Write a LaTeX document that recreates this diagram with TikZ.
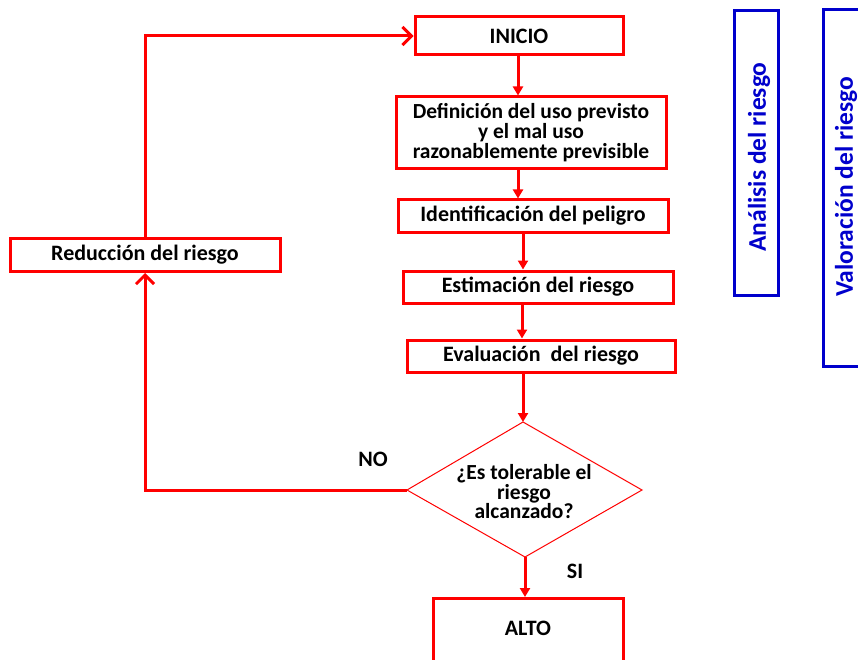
\documentclass[tikz,border=0pt]{standalone}
\usepackage{fontspec}
\setmainfont{Carlito}
\usetikzlibrary{arrows.meta}
\definecolor{rred}{RGB}{255,0,0}
\definecolor{bblue}{RGB}{0,0,204}
\begin{document}
\begin{tikzpicture}[x=1pt,y=-1pt,
  font=\fontsize{22}{19}\selectfont\bfseries,
  rbox/.style={draw=rred, line width=3pt, fill=white, inner sep=0pt, align=center, text=black},
  bbox/.style={draw=bblue, line width=3pt, inner sep=0pt},
  conn/.style={draw=rred, line width=3pt},
  down/.style={conn, -{Triangle[length=9pt,width=10pt]}},
  barb/.style={conn, -{Straight Barb[length=9pt,width=18pt,line width=3pt]}},
  lbl/.style={text=black},
  vlbl/.style={text=bblue, rotate=90, font=\fontsize{25.5}{25}\selectfont\bfseries}
]
\useasboundingbox (0,0) rectangle (858,660);
\clip (0,0) rectangle (858,660);
% red boxes
\node[rbox, minimum width=208pt, minimum height=38pt] (inicio) at (519,36) {INICIO};
\node[rbox, minimum width=270pt, minimum height=72pt, font=\fontsize{21.5}{20}\selectfont\bfseries] (def) at (531,133) {Definición del uso previsto\\y el mal uso\\razonablemente previsible};
\node[rbox, minimum width=270pt, minimum height=32pt] (ident) at (533,216) {Identificación del peligro};
\node[rbox, minimum width=270pt, minimum height=32pt] (estim) at (538,287) {Estimación del riesgo};
\node[rbox, minimum width=268pt, minimum height=32pt] (eval) at (541,356) {Evaluación\ \ del riesgo};
\node[rbox, minimum width=270pt, minimum height=33pt] (red) at (145,255) {Reducción del riesgo};
\node[rbox, minimum width=190pt, minimum height=100pt, anchor=north] (alto) at (528,597) {};
\node[lbl] (altotxt) at (528,628) {ALTO};
% diamond
\coordinate (dtop) at (523,422);
\coordinate (dleft) at (407,490);
\coordinate (dright) at (642,490);
\coordinate (dbot) at (525,557);
\draw[rred, line width=1pt, fill=white] (dtop) -- (dright) -- (dbot) -- (dleft) -- cycle;
\node[lbl, align=center, font=\fontsize{21.5}{19.5}\selectfont\bfseries] (q) at (524,492) {¿Es tolerable el\\riesgo\\alcanzado?};
\node[lbl] (no) at (373,459) {NO};
\node[lbl] (si) at (575,571) {SI};
% blue boxes
\node[bbox, minimum width=44pt, minimum height=285pt] (anal) at (756,153) {};
\node[vlbl] (analtxt) at (759,157) {Análisis del riesgo};
\node[bbox, minimum width=46pt, minimum height=357pt] (valo) at (846,188) {};
\node[vlbl] (valotxt) at (846,187) {Valoración del riesgo};
% connectors
\coordinate (c1) at (518,0);
\draw[down] (c1 |- inicio.south) -- (c1 |- def.north);
\draw[down] (c1 |- def.south) -- (c1 |- ident.north);
\coordinate (c2) at (523,0);
\draw[down] (c2 |- ident.south) -- (c2 |- estim.north);
\coordinate (c3) at (522,0);
\draw[down] (c3 |- estim.south) -- (c3 |- eval.north);
\draw[down] (dtop |- eval.south) -- (dtop);
\draw[down] (dbot) -- (dbot |- alto.north);
\draw[barb] (dleft) -- (dleft -| red.south) -- (red.south);
\draw[barb] (red.north) |- (inicio.west);
\end{tikzpicture}
\end{document}
